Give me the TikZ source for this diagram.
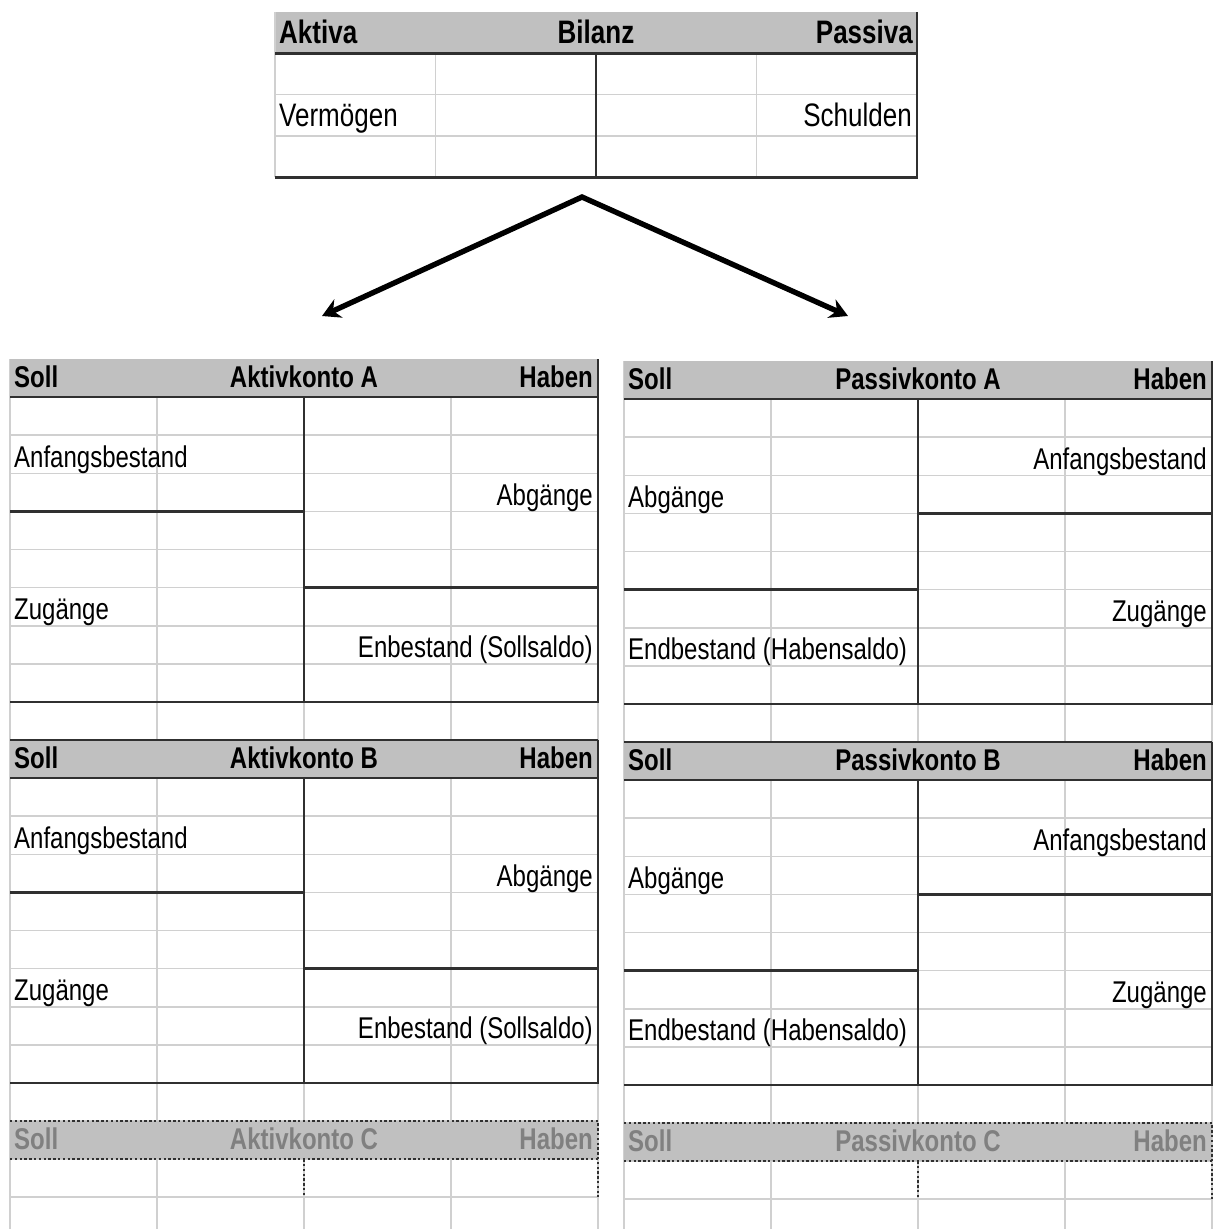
\documentclass[tikz,border=0pt]{standalone}
\usepackage{fontspec}
\setmainfont[FakeStretch=0.8]{Liberation Sans}
\usetikzlibrary{arrows.meta,positioning}
\definecolor{kgrid}{HTML}{D0D0D0}
\definecolor{khead}{HTML}{C0C0C0}
\definecolor{krule}{HTML}{303030}
\definecolor{kfade}{HTML}{808080}

\begin{document}
\begin{tikzpicture}[x=1pt,y=-1pt,
    gridl/.style={draw=kgrid,line width=1.6pt},
    rulel/.style={draw=krule,line width=2.6pt},
    dotl/.style={draw=krule,line width=2.6pt,dash pattern=on 2.4pt off 2.4pt},
    txt/.style={inner sep=0pt,font=\fontsize{30}{32}\selectfont},
    hd/.style={inner sep=0pt,font=\fontsize{30}{32}\selectfont\bfseries},
    big/.style={inner sep=0pt,font=\fontsize{32.5}{34}\selectfont},
    bighd/.style={inner sep=0pt,font=\fontsize{32.5}{34}\selectfont\bfseries},
    pfeil/.style={line width=5.4pt,{Stealth[length=18pt,width=20pt]}-{Stealth[length=18pt,width=20pt]}}]
  \useasboundingbox (0,0) rectangle (1213,1229);

  % Bilanz
  \begin{scope}[shift={(275pt,-12pt)},x=160.5pt,y=-41.33pt]
    \foreach \i in {0,...,3} \draw[gridl] (\i,0) -- (\i,4);
    \foreach \j in {2,3} \draw[gridl] (0,\j) -- (4,\j);
    \fill[khead] (0,0) rectangle (4,1);
    \draw[gridl] (0,0) -- (0,4);
    \draw[rulel] (0,1) -- (4,1);
    \draw[rulel] (4,0) -- (4,4) -- (0,4);
    \draw[rulel] (2,1) -- (2,4);
    \node[bighd,anchor=mid west,xshift=4pt] (aktiva) at (0,0.7) {Aktiva};
    \node[bighd,anchor=mid] (bilanz) at (2,0.7) {Bilanz};
    \node[bighd,anchor=mid east,xshift=-4pt] (passiva) at (4,0.7) {Passiva};
    \node[big,anchor=mid west,xshift=4pt] (vermoegen) at (0,2.7) {Vermögen};
    \node[big,anchor=mid east,xshift=-5pt] (schulden) at (4,2.7) {Schulden};
  \end{scope}

  \coordinate (apex) at (582,197);
  \coordinate (tipA) at (322,316);
  \coordinate (tipP) at (848,316);
  \draw[pfeil] (tipA) -- (apex) -- (tipP);

  % Aktivkonten
  \begin{scope}[shift={(10pt,-359pt)},x=147pt,y=-38.1pt]
    \foreach \i in {0,...,4} \draw[gridl] (\i,0) -- (\i,22.9);
    \foreach \j in {1,...,22} \draw[gridl] (0,\j) -- (4,\j);
    \foreach \h/\n in {0/A,10/B} {
      \fill[khead] (0,\h) rectangle (4,\h+1);
      \draw[rulel] (0,\h+1) -- (4,\h+1);
      \draw[rulel] (4,\h) -- (4,\h+9) -- (0,\h+9);
      \draw[rulel] (2,\h+1) -- (2,\h+9);
      \draw[rulel] (0,\h+4) -- (2,\h+4);
      \draw[rulel] (2,\h+6) -- (4,\h+6);
      \node[hd,anchor=mid west,xshift=4pt] (akt\n-soll) at (0,\h+0.68) {Soll};
      \node[hd,anchor=mid] (akt\n-name) at (2,\h+0.68) {Aktivkonto \n};
      \node[hd,anchor=mid east,xshift=-5pt] (akt\n-haben) at (4,\h+0.68) {Haben};
      \node[txt,anchor=mid west,xshift=4pt] (akt\n-anf) at (0,\h+2.77) {Anfangsbestand};
      \node[txt,anchor=mid east,xshift=-5pt] (akt\n-ab) at (4,\h+3.77) {Abgänge};
      \node[txt,anchor=mid west,xshift=4pt] (akt\n-zu) at (0,\h+6.77) {Zugänge};
      \node[txt,anchor=mid east,xshift=-5pt] (akt\n-end) at (4,\h+7.77) {Enbestand (Sollsaldo)};
    }
    \draw[rulel] (0,10) -- (4,10);
    \fill[khead] (0,20) rectangle (4,21);
    \draw[dotl] (0,20) -- (4,20) -- (4,22);
    \draw[dotl] (0,21) -- (4,21);
    \draw[dotl] (2,21) -- (2,22);
    \node[hd,kfade,anchor=mid west,xshift=4pt] (aktC-soll) at (0,20.68) {Soll};
    \node[hd,kfade,anchor=mid] (aktC-name) at (2,20.68) {Aktivkonto C};
    \node[hd,kfade,anchor=mid east,xshift=-5pt] (aktC-haben) at (4,20.68) {Haben};
  \end{scope}

  % Passivkonten
  \begin{scope}[shift={(624pt,-361pt)},x=147pt,y=-38.1pt]
    \foreach \i in {0,...,4} \draw[gridl] (\i,0) -- (\i,22.9);
    \foreach \j in {1,...,22} \draw[gridl] (0,\j) -- (4,\j);
    \foreach \h/\n in {0/A,10/B} {
      \fill[khead] (0,\h) rectangle (4,\h+1);
      \draw[rulel] (0,\h+1) -- (4,\h+1);
      \draw[rulel] (4,\h) -- (4,\h+9) -- (0,\h+9);
      \draw[rulel] (2,\h+1) -- (2,\h+9);
      \draw[rulel] (2,\h+4) -- (4,\h+4);
      \draw[rulel] (0,\h+6) -- (2,\h+6);
      \node[hd,anchor=mid west,xshift=4pt] (pas\n-soll) at (0,\h+0.68) {Soll};
      \node[hd,anchor=mid] (pas\n-name) at (2,\h+0.68) {Passivkonto \n};
      \node[hd,anchor=mid east,xshift=-5pt] (pas\n-haben) at (4,\h+0.68) {Haben};
      \node[txt,anchor=mid east,xshift=-5pt] (pas\n-anf) at (4,\h+2.77) {Anfangsbestand};
      \node[txt,anchor=mid west,xshift=4pt] (pas\n-ab) at (0,\h+3.77) {Abgänge};
      \node[txt,anchor=mid east,xshift=-5pt] (pas\n-zu) at (4,\h+6.77) {Zugänge};
      \node[txt,anchor=mid west,xshift=4pt] (pas\n-end) at (0,\h+7.77) {Endbestand (Habensaldo)};
    }
    \draw[rulel] (0,10) -- (4,10);
    \fill[khead] (0,20) rectangle (4,21);
    \draw[dotl] (0,20) -- (4,20) -- (4,22);
    \draw[dotl] (0,21) -- (4,21);
    \draw[dotl] (2,21) -- (2,22);
    \node[hd,kfade,anchor=mid west,xshift=4pt] (pasC-soll) at (0,20.68) {Soll};
    \node[hd,kfade,anchor=mid] (pasC-name) at (2,20.68) {Passivkonto C};
    \node[hd,kfade,anchor=mid east,xshift=-5pt] (pasC-haben) at (4,20.68) {Haben};
  \end{scope}
\end{tikzpicture}
\end{document}
